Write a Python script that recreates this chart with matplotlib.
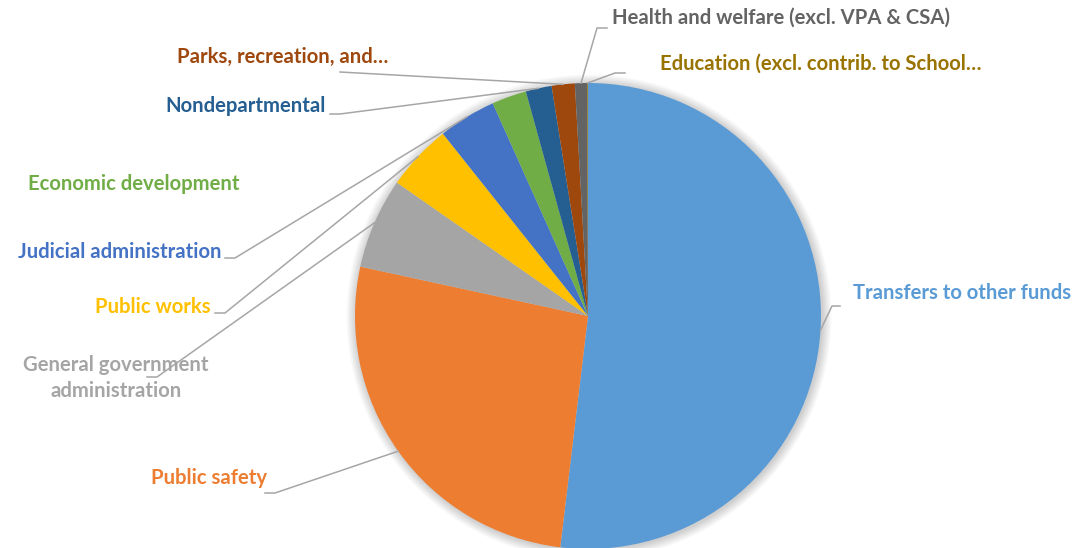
import numpy as np
import matplotlib.pyplot as plt
from matplotlib.patches import Circle

# share of spending by function (percent), clockwise from 12 o'clock
categories = [
    "Transfers to other funds",
    "Public safety",
    "General government\nadministration",
    "Public works",
    "Judicial administration",
    "Economic development",
    "Nondepartmental",
    "Parks, recreation, and…",
    "Health and welfare (excl. VPA & CSA)",
    "Education (excl. contrib. to School…",
]
values = [51.9, 26.5, 6.3, 4.6, 4.0, 2.4, 1.8, 1.6, 0.85, 0.05]
colors = ["#5B9BD5", "#ED7D31", "#A5A5A5", "#FFC000", "#4472C4",
          "#70AD47", "#255E91", "#9E480E", "#636363", "#997300"]

W, H = 1086, 548
fig = plt.figure(figsize=(W / 100, H / 100), dpi=100)
ax = fig.add_axes([0, 0, 1, 1])

cx, cy, r = 588, H - 316, 233

# soft shadow round the pie
for i in range(8):
    ax.add_patch(Circle((cx + 1, cy - 1), r + 1 + i * 1.2, color="black",
                        alpha=0.025, lw=0, zorder=0))

wedges, _ = ax.pie(values, colors=colors, startangle=90, counterclock=False,
                   center=(cx, cy), radius=r, frame=True,
                   wedgeprops=dict(linewidth=0))
ax.set_xlim(0, W)
ax.set_ylim(0, H)
ax.set_aspect("equal")
ax.axis("off")

# label layout: (x, y in image px, alignment, leader points in image px)
layout = [
    (853, 293, "left", [(840, 306), (832, 306)]),
    (267, 478, "right", [(265, 493), (275, 493)]),
    (116, 378, "center", [(147, 377), (157, 377)]),
    (211, 307, "right", [(215, 313), (225, 313)]),
    (221, 252, "right", [(225, 258), (235, 258)]),
    (240, 184, "right", None),
    (326, 106, "right", [(330, 114), (340, 114)]),
    (388, 57, "right", [(340, 72)]),
    (612, 18, "left", [(607, 28), (597, 28)]),
    (660, 64, "left", [(625, 73), (615, 73)]),
]

for w, name, col, (lx, ly, ha, pts) in zip(wedges, categories, colors, layout):
    ax.text(lx, H - ly, name, color=col, ha=ha, va="center",
            fontsize=14.6, fontweight="bold", family=["Lato", "DejaVu Sans"],
            linespacing=1.38)
    if pts is None:
        continue
    mid = np.deg2rad((w.theta1 + w.theta2) / 2)
    ex, ey = cx + r * np.cos(mid), cy + r * np.sin(mid)
    xs = [p[0] for p in pts] + [ex]
    ys = [H - p[1] for p in pts] + [ey]
    ax.plot(xs, ys, color="#A6A6A6", lw=1.1, zorder=1)

fig.savefig("out.png", dpi=100)
